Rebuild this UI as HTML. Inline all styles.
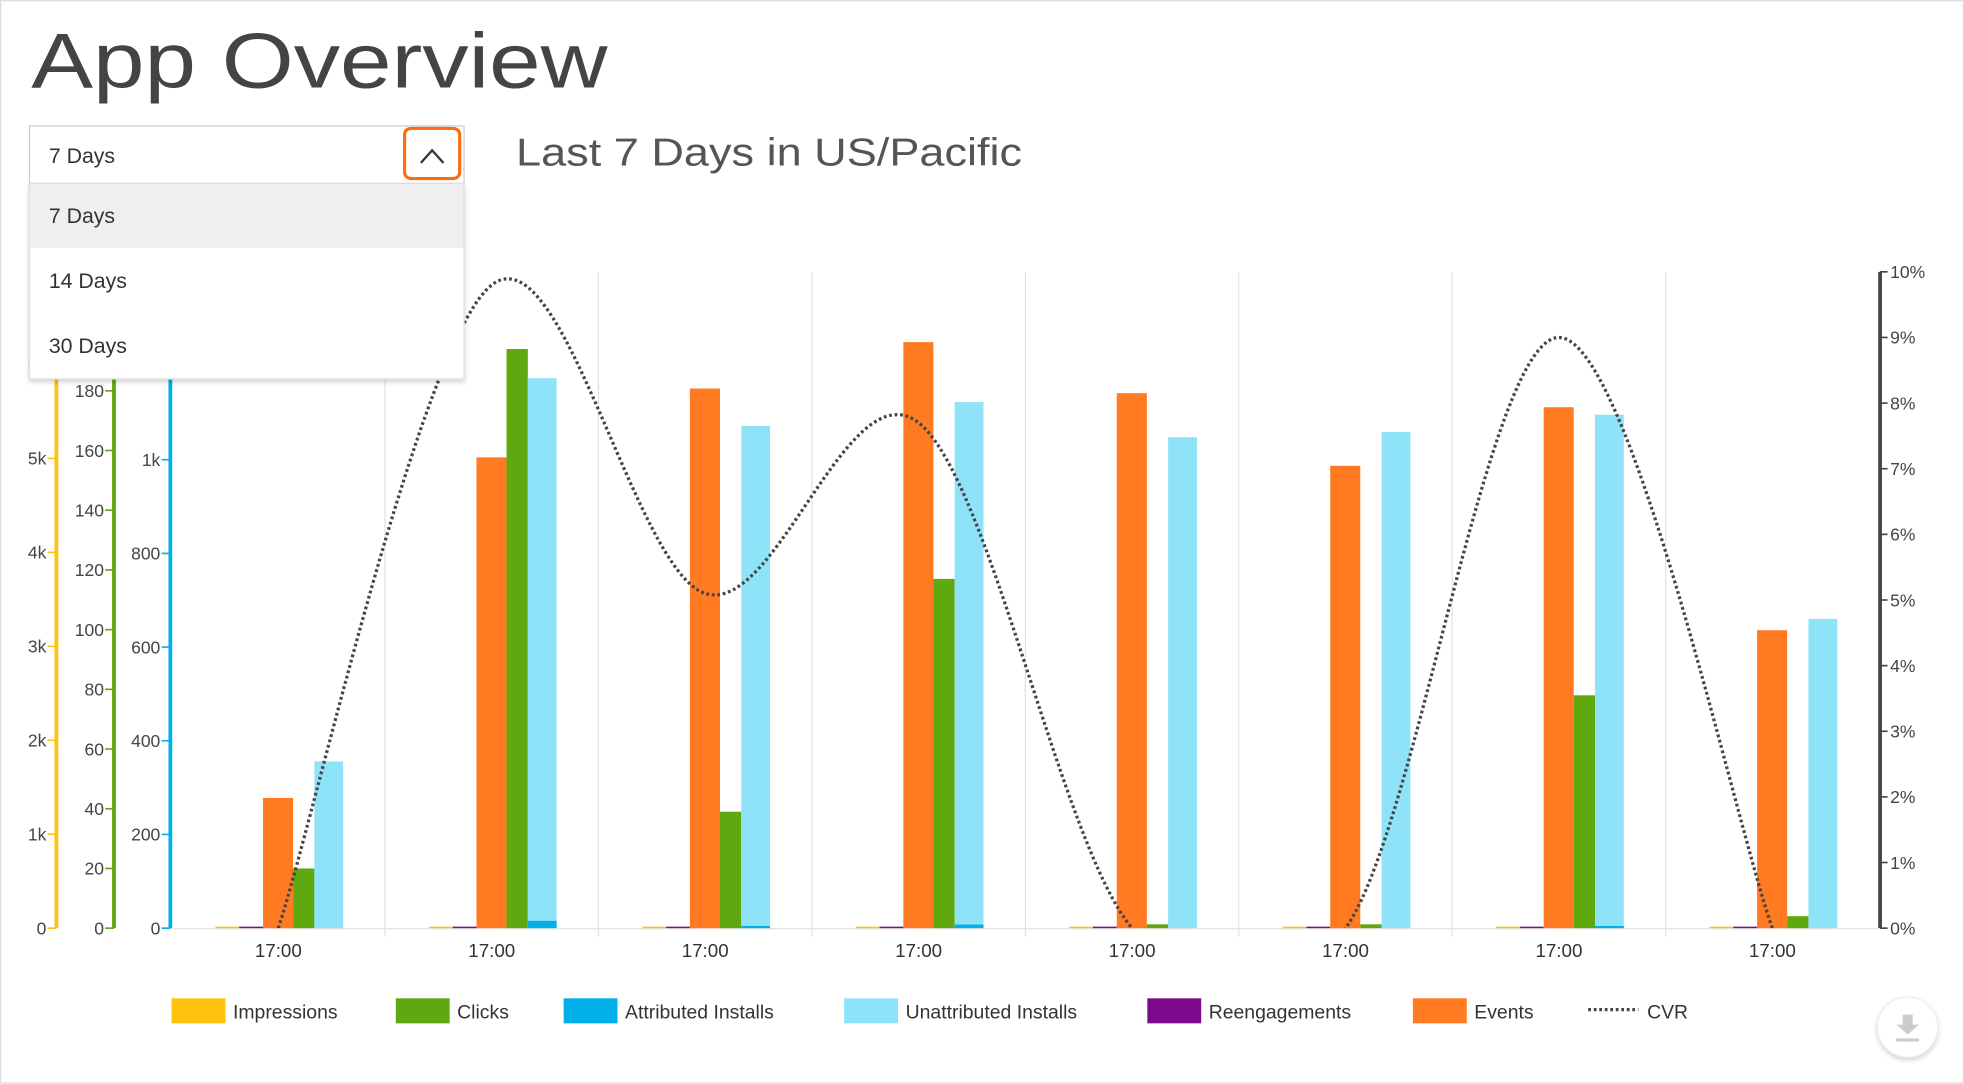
<!DOCTYPE html>
<html><head><meta charset="utf-8"><style>
html,body{margin:0;padding:0;background:#fff;}
svg{display:block;font-family:"Liberation Sans",sans-serif;}
</style></head><body>
<svg id="chart" width="1964" height="1084" viewBox="0 0 1568 865.4" xmlns="http://www.w3.org/2000/svg">
<defs>
<clipPath id="plotclip"><rect x="137" y="200" width="1363" height="541"/></clipPath>
<filter id="sh" x="-10%" y="-10%" width="120%" height="130%"><feDropShadow dx="0" dy="2" stdDeviation="2" flood-color="#000" flood-opacity="0.18"/></filter>
</defs>
<rect x="0.5" y="0.5" width="1567" height="864" fill="#fff" stroke="#ddd"/>
<text x="25" y="70" font-size="62" fill="#444" textLength="460" lengthAdjust="spacingAndGlyphs">App Overview</text>
<text x="412" y="132" font-size="31" fill="#555" textLength="404" lengthAdjust="spacingAndGlyphs">Last 7 Days in US/Pacific</text>
<g id="grid"></g>
<g id="axes"></g>
<g id="bars"></g>
<g id="line" clip-path="url(#plotclip)"></g>
<g id="xlabels"></g>
<g id="legend"></g>
<g>
<rect x="23.5" y="100.5" width="347" height="46" fill="#fff" stroke="#ccc"/>
<text x="39" y="130" font-size="17" fill="#333">7 Days</text>
<rect x="323" y="102.5" width="44" height="40" rx="5" fill="#fff" stroke="#ff6a13" stroke-width="2.5"/>
<polyline points="336,130 345,120 354,130" fill="none" stroke="#333" stroke-width="1.8"/>
</g>
<g filter="url(#sh)">
<rect x="23.5" y="146.5" width="347" height="156" fill="#fff" stroke="#ddd"/>
</g>
<rect x="24" y="147" width="346" height="51" fill="#efefef"/>
<text x="39" y="178" font-size="17" fill="#333">7 Days</text>
<text x="39" y="230" font-size="17" fill="#333">14 Days</text>
<text x="39" y="282" font-size="17" fill="#333">30 Days</text>
<g>
<circle cx="1523" cy="820" r="24" fill="#fff" stroke="#eee" filter="url(#sh)"/>
<path d="M1519 810h8v8h5l-9 8-9-8h5z" fill="#ccc"/>
<rect x="1514" y="829" width="18" height="2.5" fill="#ccc"/>
</g>
</svg>
<script>
const categories = ["17:00","17:00","17:00","17:00","17:00","17:00","17:00","17:00"];
const impressions = [10,10,10,10,10,10,10,10];
const reengagements = [2,2,2,2,2,2,2,2];
const events = [278,1005,1152,1251,1142,987,1112,636];
const clicks = [20,194,39,117,1.3,1.3,78,4];
const attributedInstalls = [0,16,5,8,0,0,5,0];
const unattributedInstalls = [356,1158,1067,1115,1048,1059,1091,660];
const cvr = [0,9.8,5.1,7.7,0,0,9.0,0];
const impTicks = ["0","1k","2k","3k","4k","5k","6k"];
const clickTicks = ["0","20","40","60","80","100","120","140","160","180"];
const installTicks = ["0","200","400","600","800","1k"];
const cvrTicks = ["0%","1%","2%","3%","4%","5%","6%","7%","8%","9%","10%"];

const NS="http://www.w3.org/2000/svg";
const X0=137, GW=170.4, Y0=741;
const yImp=v=>Y0-v*0.075, yClk=v=>Y0-v*(429/180), yInst=v=>Y0-v*0.374, yCvr=v=>Y0-v*52.4;
const gx=i=>X0+i*GW;
function mk(tag,attrs,parent){const e=document.createElementNS(NS,tag);for(const k in attrs)e.setAttribute(k,attrs[k]);parent.appendChild(e);return e;}
const grid=document.getElementById('grid'),axes=document.getElementById('axes'),bars=document.getElementById('bars'),lineG=document.getElementById('line'),xl=document.getElementById('xlabels'),leg=document.getElementById('legend');

for(let i=1;i<categories.length;i++){
 const l=mk('line',{x1:gx(i),x2:gx(i),y1:217,y2:748,stroke:'#e3e3e3','stroke-width':1},grid);
 
 
}
const base=mk('line',{x1:X0,x2:1500,y1:Y0+0.5,y2:Y0+0.5,stroke:'#e3e3e3'},grid);



function axis(x,color,ticks,scale,step,lx,name){
 const g=mk('g',{},axes);
 
 
 mk('line',{x1:x,x2:x,y1:217,y2:Y0,stroke:color,'stroke-width':3},g);
 ticks.forEach((t,k)=>{const y=scale(k*step);
  mk('line',{x1:x-7,x2:x,y1:y,y2:y,stroke:color,'stroke-width':1.3},g);
  const tx=mk('text',{x:lx,y:y+5,'font-size':14,fill:'#444','text-anchor':'end'},g);tx.textContent=t;});
}
axis(45,'#ffc20e',impTicks,yImp,1000,37,'impressions-axis');
axis(91,'#5ea80f',clickTicks,yClk,20,83,'clicks-axis');
axis(136,'#00b0e6',installTicks,yInst,200,128,'installs-axis');
{const g=mk('g',{},axes);
 
 
 mk('line',{x1:1501,x2:1501,y1:217,y2:Y0,stroke:'#444','stroke-width':3},g);
 cvrTicks.forEach((t,k)=>{const y=yCvr(k);
  mk('line',{x1:1501,x2:1507,y1:y,y2:y,stroke:'#444','stroke-width':1.3},g);
  const tx=mk('text',{x:1509,y:y+5,'font-size':14,fill:'#444'},g);tx.textContent=t;});}

function bar(x,w,y1,y2,color,name){
 const h=Math.max(1.2,y1-y2);
 const r=mk('rect',{x:x,y:y1-h,width:w,height:h,fill:color},bars);
 
 
}
categories.forEach((c,i)=>{const s=gx(i);
 bar(s+35,19,Y0,yImp(impressions[i]),'#ffc20e','bar-impressions');
 bar(s+54,19,Y0,yInst(reengagements[i]),'#7d0a8c','bar-reengagements');
 bar(s+73,24,Y0,yInst(events[i]),'#ff7a21','bar-events');
 bar(s+97,17,Y0,yClk(clicks[i]),'#5fa80f','bar-clicks');
 const ya=yInst(attributedInstalls[i]);
 if(attributedInstalls[i]>0) bar(s+114,23,Y0,ya,'#00b0e6','bar-attributed-installs');
 bar(s+114,23,ya,ya-(unattributedInstalls[i]*0.374),'#8fe3f9','bar-unattributed-installs');
 const t=mk('text',{x:s+GW/2,y:764,'font-size':15,fill:'#333','text-anchor':'middle'},xl);t.textContent=c;
 
 
});

const pts=cvr.map((v,i)=>[gx(i)+GW/2,yCvr(v)]);
let d='M'+pts[0][0]+' '+pts[0][1];
for(let i=0;i<pts.length-1;i++){
 const p0=pts[i-1]||pts[i],p1=pts[i],p2=pts[i+1],p3=pts[i+2]||p2;
 const c1=[p1[0]+(p2[0]-p0[0])/6,p1[1]+(p2[1]-p0[1])/6],c2=[p2[0]-(p3[0]-p1[0])/6,p2[1]-(p3[1]-p1[1])/6];
 d+=` C${c1[0]} ${c1[1]} ${c2[0]} ${c2[1]} ${p2[0]} ${p2[1]}`;
}
const path=mk('path',{d:d,fill:'none',stroke:'#444','stroke-width':2.6,'stroke-dasharray':'2.2 2.2'},lineG);



const legendItems=[["Impressions","#ffc20e",137],["Clicks","#5fa80f",316],["Attributed Installs","#00b0e6",450],["Unattributed Installs","#8fe3f9",674],["Reengagements","#7d0a8c",916],["Events","#ff7a21",1128]];
legendItems.forEach(([n,c,x])=>{const g=mk('g',{},leg);
 
 
 mk('rect',{x:x,y:797,width:43,height:20,fill:c},g);
 const t=mk('text',{x:x+49,y:813,'font-size':15.5,fill:'#333'},g);t.textContent=n;});
{const g=mk('g',{},leg);
 
 
 mk('line',{x1:1268,x2:1308,y1:806,y2:806,stroke:'#444','stroke-width':2.6,'stroke-dasharray':'2.2 2.2'},g);
 const t=mk('text',{x:1315,y:813,'font-size':15.5,fill:'#333'},g);t.textContent='CVR';}
</script>
</body></html>
